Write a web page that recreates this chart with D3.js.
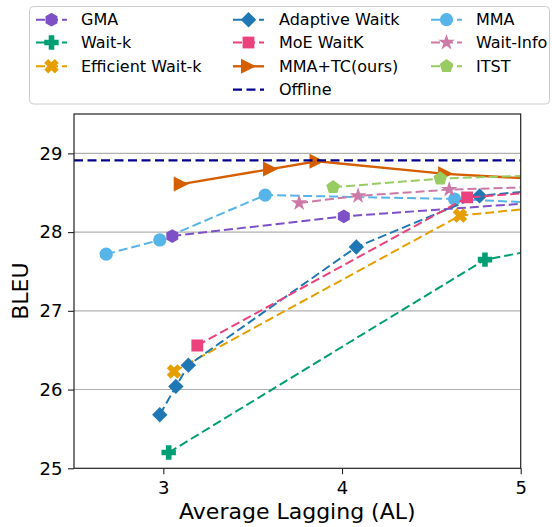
<!DOCTYPE html>
<html>
<head>
<meta charset="utf-8">
<script src="https://cdn.jsdelivr.net/npm/d3@7"></script>
<style>
  body { margin: 0; background: #ffffff; }
  svg { display: block; font-family: "DejaVu Sans", sans-serif; }
</style>
</head>
<body>
<svg id="chart" width="552" height="527"></svg>
<script>
// ---- data: average lagging (AL) vs BLEU per method ----
const gmaAL        = [3.05, 4.01, 5.5];
const gmaBLEU      = [27.95, 28.20, 28.44];
const waitkAL      = [3.03, 4.80, 5.5];
const waitkBLEU    = [25.20, 27.65, 27.95];
const effWaitkAL   = [3.06, 4.66, 5.5];
const effWaitkBLEU = [26.23, 28.21, 28.40];
const adaptiveAL   = [2.98, 3.07, 3.14, 4.08, 4.77, 5.5];
const adaptiveBLEU = [25.68, 26.04, 26.31, 27.81, 28.46, 28.62];
const moeAL        = [3.19, 4.70, 5.5];
const moeBLEU      = [26.56, 28.44, 28.58];
const mmatcAL      = [3.10, 3.60, 3.86, 4.58, 5.5];
const mmatcBLEU    = [28.61, 28.80, 28.90, 28.74, 28.62];
const mmaAL        = [2.68, 2.98, 3.57, 4.63, 5.5];
const mmaBLEU      = [27.72, 27.90, 28.47, 28.42, 28.33];
const waitInfoAL   = [3.76, 4.09, 4.60, 5.5];
const waitInfoBLEU = [28.37, 28.46, 28.54, 28.60];
const itstAL       = [3.95, 4.55, 5.5];
const itstBLEU     = [28.57, 28.68, 28.75];
const offlineBLEU  = 28.91;

const xTicks = [3, 4, 5];
const yTicks = [25, 26, 27, 28, 29];
const xLabel = "Average Lagging (AL)";
const yLabel = "BLEU";

// ---- series styling ----
const series = [
  { name: "MMA",               al: mmaAL,      bleu: mmaBLEU,      color: "#56b4e9", marker: "circle",   dashed: true },
  { name: "GMA",               al: gmaAL,      bleu: gmaBLEU,      color: "#7d50c8", marker: "hexagon",  dashed: true },
  { name: "Wait-k",            al: waitkAL,    bleu: waitkBLEU,    color: "#009e73", marker: "plus",     dashed: true },
  { name: "Efficient Wait-k",  al: effWaitkAL, bleu: effWaitkBLEU, color: "#e69f00", marker: "x",        dashed: true },
  { name: "Adaptive Waitk",    al: adaptiveAL, bleu: adaptiveBLEU, color: "#1f78b4", marker: "diamond",  dashed: true },
  { name: "MoE WaitK",         al: moeAL,      bleu: moeBLEU,      color: "#eb417d", marker: "square",   dashed: true },
  { name: "MMA+TC(ours)",      al: mmatcAL,    bleu: mmatcBLEU,    color: "#d55e00", marker: "triangle", dashed: false },
  { name: "Wait-Info",         al: waitInfoAL, bleu: waitInfoBLEU, color: "#cc79a7", marker: "star",     dashed: true },
  { name: "ITST",              al: itstAL,     bleu: itstBLEU,     color: "#98cc62", marker: "pentagon", dashed: true }
];
const offlineStyle = { name: "Offline", color: "#00008b" };
const byName = Object.fromEntries(series.map(s => [s.name, s]));

const legendColumns = [
  ["GMA", "Wait-k", "Efficient Wait-k"],
  ["Adaptive Waitk", "MoE WaitK", "MMA+TC(ours)", "Offline"],
  ["MMA", "Wait-Info", "ITST"]
];

// ---- layout ----
const plot = { left: 74, right: 520.7, top: 114, bottom: 468.3 };
const x = d3.scaleLinear().domain([2.5, 5]).range([plot.left, plot.right]);
const y = d3.scaleLinear().domain([25, 29.5]).range([plot.bottom, plot.top]);

const svg = d3.select("#chart");
svg.append("rect").attr("width", 552).attr("height", 527).attr("fill", "#ffffff");

svg.append("defs").append("clipPath").attr("id", "plotClip")
  .append("rect")
  .attr("x", plot.left).attr("y", plot.top)
  .attr("width", plot.right - plot.left).attr("height", plot.bottom - plot.top);

// ---- marker shapes (paths centred on 0,0) ----
function polygon(pts) {
  return "M" + pts.map(p => p[0].toFixed(2) + "," + p[1].toFixed(2)).join("L") + "Z";
}
function regular(n, R, startDeg) {
  const pts = [];
  for (let i = 0; i < n; i++) {
    const a = (startDeg + i * 360 / n) * Math.PI / 180;
    pts.push([R * Math.cos(a), R * Math.sin(a)]);
  }
  return pts;
}
function rotate(pts, deg) {
  const a = deg * Math.PI / 180, c = Math.cos(a), s = Math.sin(a);
  return pts.map(p => [p[0] * c - p[1] * s, p[0] * s + p[1] * c]);
}
function plusPts(h, t) {
  return [[-t,-h],[t,-h],[t,-t],[h,-t],[h,t],[t,t],[t,h],[-t,h],[-t,t],[-h,t],[-h,-t],[-t,-t]];
}
function markerPath(shape) {
  switch (shape) {
    case "circle": { const r = 6.6; return `M${r},0A${r},${r} 0 1 1 ${-r},0A${r},${r} 0 1 1 ${r},0Z`; }
    case "square": { const h = 5.9; return polygon([[-h,-h],[h,-h],[h,h],[-h,h]]); }
    case "diamond": { const h = 7.7; return polygon([[0,-h],[h,0],[0,h],[-h,0]]); }
    case "hexagon": return polygon(regular(6, 6.9, -90));
    case "pentagon": return polygon(regular(5, 7.2, -90));
    case "star": {
      const pts = [];
      for (let i = 0; i < 10; i++) {
        const R = i % 2 === 0 ? 8.6 : 8.6 * 0.382;
        const a = (-90 + i * 36) * Math.PI / 180;
        pts.push([R * Math.cos(a), R * Math.sin(a)]);
      }
      return polygon(pts);
    }
    case "plus": return polygon(plusPts(7.2, 2.8));
    case "x": return polygon(rotate(plusPts(7.5, 2.8), 45));
    case "triangle": { const h = 7.5; return polygon([[h,0],[-h,-h],[-h,h]]); }
  }
  return "";
}

const dashPattern = "9,4";

// ---- grid ----
svg.append("g").selectAll("line")
  .data(yTicks.filter(t => t > 25))
  .join("line")
  .attr("x1", plot.left).attr("x2", plot.right)
  .attr("y1", d => y(d)).attr("y2", d => y(d))
  .attr("stroke", "#b0b0b0").attr("stroke-width", 1.1);

// ---- series ----
const plotG = svg.append("g").attr("clip-path", "url(#plotClip)");
const line = d3.line().x(d => x(d[0])).y(d => y(d[1]));

function drawSeries(s) {
  const pts = s.al.map((a, i) => [a, s.bleu[i]]);
  const g = plotG.append("g");
  g.append("path")
    .attr("d", line(pts))
    .attr("fill", "none")
    .attr("stroke", s.color)
    .attr("stroke-width", s.dashed ? 2 : 2.4)
    .attr("stroke-dasharray", s.dashed ? dashPattern : null);
  g.selectAll("path.mk")
    .data(pts)
    .join("path")
    .attr("class", "mk")
    .attr("d", markerPath(s.marker))
    .attr("transform", d => `translate(${x(d[0])},${y(d[1])})`)
    .attr("fill", s.color);
}

// draw order
["MMA", "GMA", "Wait-k", "Efficient Wait-k", "Adaptive Waitk", "MoE WaitK", "MMA+TC(ours)"]
  .forEach(n => drawSeries(byName[n]));

// offline reference line
plotG.append("line")
  .attr("x1", x(2.5)).attr("x2", x(5))
  .attr("y1", y(offlineBLEU)).attr("y2", y(offlineBLEU))
  .attr("stroke", offlineStyle.color).attr("stroke-width", 2.3)
  .attr("stroke-dasharray", "9,4.5");

["Wait-Info", "ITST"].forEach(n => drawSeries(byName[n]));

// ---- axes ----
const axisColor = "#222222";
const yAxis = svg.append("g")
  .attr("transform", `translate(${plot.left},0)`)
  .call(d3.axisLeft(y).tickValues(yTicks).tickFormat(d3.format("d")).tickSize(6).tickPadding(5.5));
const xAxis = svg.append("g")
  .attr("transform", `translate(0,${plot.bottom})`)
  .call(d3.axisBottom(x).tickValues(xTicks).tickFormat(d3.format("d")).tickSize(6).tickPadding(7));
[xAxis, yAxis].forEach(a => {
  a.select(".domain").remove();
  a.selectAll(".tick line").attr("stroke", axisColor).attr("stroke-width", 1.1);
  a.selectAll(".tick text")
    .attr("fill", "#000000")
    .style("font-family", "'DejaVu Sans', sans-serif")
    .style("font-size", "18px");
});

// frame
svg.append("rect")
  .attr("x", plot.left).attr("y", plot.top)
  .attr("width", plot.right - plot.left).attr("height", plot.bottom - plot.top)
  .attr("fill", "none").attr("stroke", axisColor).attr("stroke-width", 1.2);

// axis titles
svg.append("text")
  .attr("x", (plot.left + plot.right) / 2).attr("y", 519)
  .attr("text-anchor", "middle")
  .style("font-size", "22px")
  .text(xLabel);
svg.append("text")
  .attr("transform", `translate(28,${(plot.top + plot.bottom) / 2}) rotate(-90)`)
  .attr("text-anchor", "middle")
  .style("font-size", "22px")
  .text(yLabel);

// ---- legend ----
const legend = svg.append("g");
legend.append("rect")
  .attr("x", 29.5).attr("y", 6.5).attr("width", 520).attr("height", 97.5)
  .attr("rx", 4).attr("ry", 4)
  .attr("fill", "#ffffff").attr("fill-opacity", 0.8)
  .attr("stroke", "#cccccc").attr("stroke-width", 1);

const colHandleX = [36, 233, 431];
const colTextX = [81, 279, 476];
const rowY = [19.7, 42.5, 66.3, 89.7];
const handleLen = 31;

legendColumns.forEach((col, ci) => {
  col.forEach((name, ri) => {
    const g = legend.append("g").attr("transform", `translate(0,${rowY[ri]})`);
    const x0 = colHandleX[ci];
    if (name === "Offline") {
      g.append("line")
        .attr("x1", x0).attr("x2", x0 + handleLen)
        .attr("stroke", offlineStyle.color).attr("stroke-width", 2.3)
        .attr("stroke-dasharray", "9,4.5");
    } else {
      const s = byName[name];
      g.append("line")
        .attr("x1", x0).attr("x2", x0 + handleLen)
        .attr("stroke", s.color)
        .attr("stroke-width", s.dashed ? 2 : 2.4)
        .attr("stroke-dasharray", s.dashed ? dashPattern : null);
      g.append("path")
        .attr("d", markerPath(s.marker))
        .attr("transform", `translate(${x0 + handleLen / 2},0)`)
        .attr("fill", s.color);
    }
    g.append("text")
      .attr("x", colTextX[ci]).attr("y", 0).attr("dy", "0.36em")
      .style("font-size", "16px")
      .attr("fill", "#000000")
      .text(name);
  });
});
</script>
</body>
</html>
